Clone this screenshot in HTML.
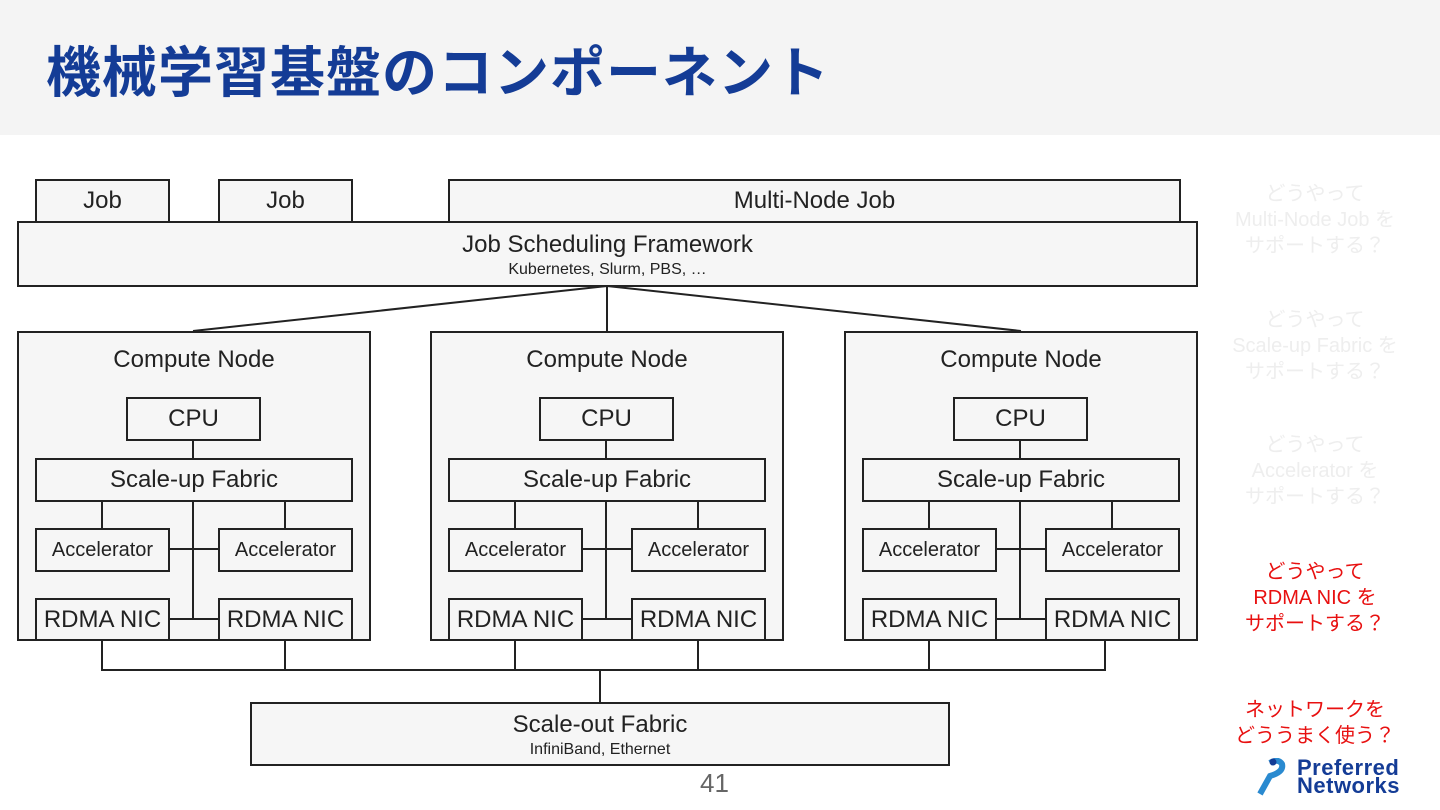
<!DOCTYPE html>
<html><head><meta charset="utf-8"><style>
body{margin:0;width:1440px;height:810px;background:#fff;position:relative;overflow:hidden;font-family:"Liberation Sans","Noto Sans CJK JP",sans-serif;color:#222}
.hdr{position:absolute;left:0;top:0;width:1440px;height:135px;background:#f4f4f4}
.title{position:absolute;left:46px;top:28px;font-size:55px;font-weight:bold;color:#143c96;letter-spacing:1px;white-space:nowrap}
.b{position:absolute;box-sizing:border-box;border:2px solid #222;background:#f6f6f6;text-align:center;white-space:nowrap;font-size:24px;color:#222}
.s{font-size:16px}
.q{position:absolute;width:220px;text-align:center;font-size:20px;line-height:26px;color:#eee;left:1205px}
.r{color:#e81010}
svg{position:absolute;left:0;top:0}
</style></head><body>
<div class="hdr"></div>
<div class="title">機械学習基盤のコンポーネント</div>

<svg width="1440" height="810">
<g stroke="#222" stroke-width="2" fill="none">
<line x1="607" y1="286" x2="193" y2="331"/><line x1="607" y1="286" x2="607" y2="331"/><line x1="607" y1="286" x2="1021" y2="331"/>
<polyline points="102,640 102,670 1105,670 1105,640"/>
<line x1="285" y1="640" x2="285" y2="670"/><line x1="515" y1="640" x2="515" y2="670"/><line x1="698" y1="640" x2="698" y2="670"/><line x1="929" y1="640" x2="929" y2="670"/>
<line x1="600" y1="670" x2="600" y2="702"/>
</g>
</svg>

<div class="b" style="left:35px;top:179px;width:135px;height:44px;line-height:40px">Job</div>
<div class="b" style="left:218px;top:179px;width:135px;height:44px;line-height:40px">Job</div>
<div class="b" style="left:448px;top:179px;width:733px;height:44px;line-height:40px">Multi-Node Job</div>
<div class="b" style="left:17px;top:221px;width:1181px;height:66px"><div style="margin-top:6px;line-height:32px">Job Scheduling Framework</div><div class="s" style="line-height:18px">Kubernetes, Slurm, PBS, …</div></div>

<div id="n1"></div>

<div class="b" style="left:250px;top:702px;width:700px;height:64px"><div style="margin-top:5px;line-height:32px">Scale-out Fabric</div><div class="s" style="line-height:18px">InfiniBand, Ethernet</div></div>
<div style="position:absolute;left:700px;top:768px;font-size:26px;color:#666">41</div>

<div class="q" style="top:181px">どうやって<br>Multi-Node Job を<br>サポートする？</div>
<div class="q" style="top:307px">どうやって<br>Scale-up Fabric を<br>サポートする？</div>
<div class="q" style="top:432px">どうやって<br>Accelerator を<br>サポートする？</div>
<div class="q r" style="top:559px">どうやって<br>RDMA NIC を<br>サポートする？</div>
<div class="q r" style="top:697px">ネットワークを<br>どううまく使う？</div>
<div style="position:absolute;left:1256px;top:758px;width:36px;height:38px">
<svg width="36" height="38"><path d="M4 36 L14 18 Q28 14 26 6 Q22 0 14 5" stroke="#2a8ad0" stroke-width="6" fill="none"/><circle cx="17" cy="4" r="3.5" fill="#143c96"/></svg></div>
<div style="position:absolute;left:1297px;top:759px;font-size:22px;font-weight:bold;color:#143c96;line-height:18px;letter-spacing:0.5px">Preferred<br>Networks</div>

<script>
var h='';
[0,413,827].forEach(function(o){
 h+='<div class="b" style="left:'+(17+o)+'px;top:331px;width:354px;height:310px"><div style="margin-top:12px;line-height:30px">Compute Node</div></div>';
 h+='<svg width="1440" height="810" style="position:absolute;left:0;top:0"><g stroke="#222" stroke-width="2" fill="none">'
  +'<line x1="'+(193+o)+'" y1="440" x2="'+(193+o)+'" y2="619"/>'
  +'<line x1="'+(102+o)+'" y1="501" x2="'+(102+o)+'" y2="528"/>'
  +'<line x1="'+(285+o)+'" y1="501" x2="'+(285+o)+'" y2="528"/>'
  +'<line x1="'+(169+o)+'" y1="549" x2="'+(218+o)+'" y2="549"/>'
  +'<line x1="'+(169+o)+'" y1="619" x2="'+(218+o)+'" y2="619"/></g></svg>';
 h+='<div class="b" style="left:'+(126+o)+'px;top:397px;width:135px;height:44px;line-height:40px">CPU</div>';
 h+='<div class="b" style="left:'+(35+o)+'px;top:458px;width:318px;height:44px;line-height:40px">Scale-up Fabric</div>';
 h+='<div class="b" style="left:'+(35+o)+'px;top:528px;width:135px;height:44px;line-height:40px;font-size:20px">Accelerator</div>';
 h+='<div class="b" style="left:'+(218+o)+'px;top:528px;width:135px;height:44px;line-height:40px;font-size:20px">Accelerator</div>';
 h+='<div class="b" style="left:'+(35+o)+'px;top:598px;width:135px;height:43px;line-height:39px">RDMA NIC</div>';
 h+='<div class="b" style="left:'+(218+o)+'px;top:598px;width:135px;height:43px;line-height:39px">RDMA NIC</div>';
});
document.getElementById('n1').outerHTML=h;
</script>
</body></html>
